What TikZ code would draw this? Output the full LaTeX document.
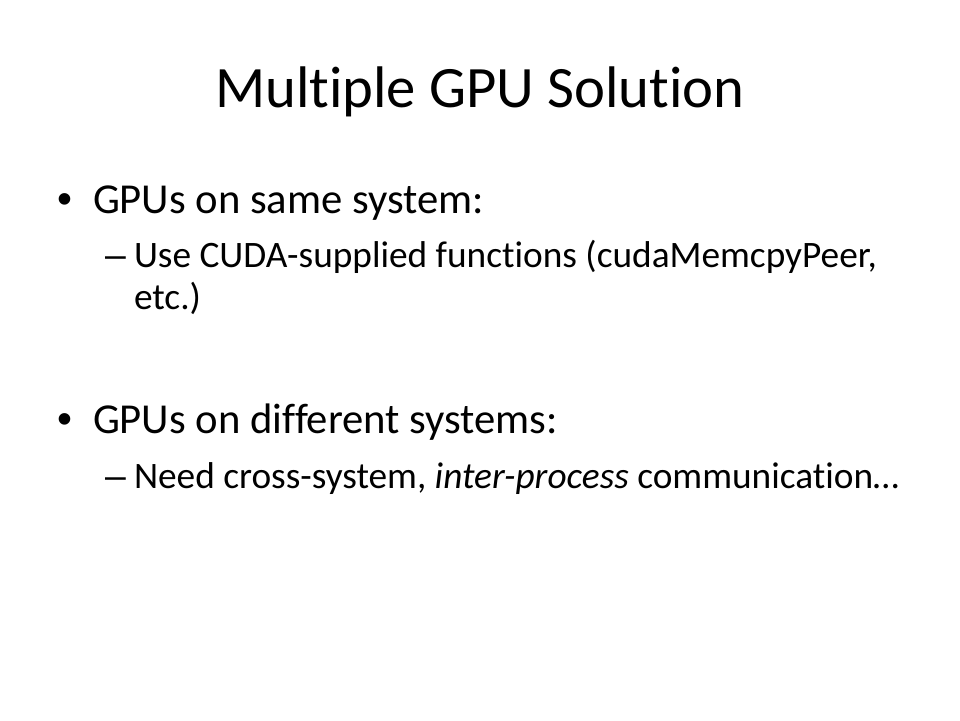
\documentclass[tikz,border=0pt]{standalone}
\usepackage{fontspec}
\setmainfont{Carlito}[Ligatures=CommonOff]
\newfontfamily\markfont{Liberation Sans}
\usetikzlibrary{positioning}
\newcommand{\titlesize}{\fontsize{58.67}{70}\selectfont}
\newcommand{\levelone}{\fontsize{42.67}{51}\selectfont}
\newcommand{\leveltwo}{\fontsize{37.33}{45}\selectfont}

\begin{document}
\begin{tikzpicture}[
		x=1pt,
		y=-1pt,
		every node/.style={inner sep=0pt, outer sep=0pt, anchor=base west},
	]
		\useasboundingbox [fill=white] (0, 0) rectangle (960, 720);

		% title
		\node [anchor=base] (title) at (480, 107) {\titlesize Multiple GPU Solution};

		% first point
		\begin{scope}[every node/.append style={font=\levelone}]
			\node (dotA) at (57, 213) {\markfont •};
			\node (same) at (93, 213) {GPUs on same system:};
		\end{scope}
		\begin{scope}[every node/.append style={font=\leveltwo}]
			\node (dashA) at (105, 267) {\markfont –};
			\node (cuda) at (134, 267) {Use CUDA-supplied functions (cudaMemcpyPeer,};
			\node (etc) at (134, 309) {etc.)};
		\end{scope}

		% second point
		\begin{scope}[every node/.append style={font=\levelone}]
			\node (dotB) at (57, 433) {\markfont •};
			\node (diff) at (93, 433) {GPUs on different systems:};
		\end{scope}
		\begin{scope}[every node/.append style={font=\leveltwo}]
			\node (dashB) at (105, 488) {\markfont –};
			\node (need) at (134, 488) {Need cross-system, \textit{inter-process} communication…};
		\end{scope}
	\end{tikzpicture}
\end{document}
